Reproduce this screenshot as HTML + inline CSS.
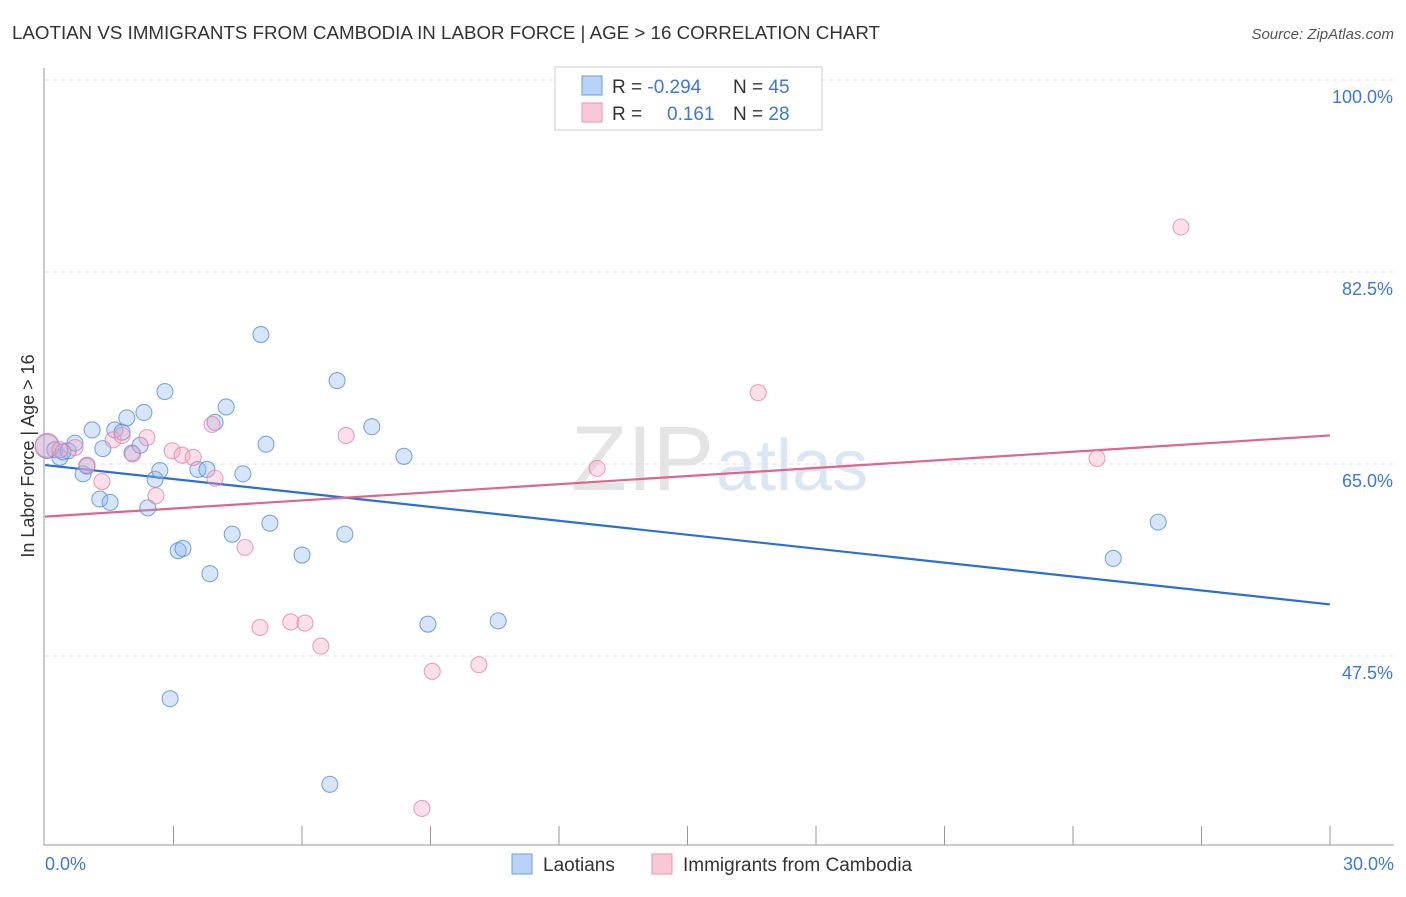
<!DOCTYPE html>
<html><head><meta charset="utf-8"><style>
body{margin:0;background:#fff;font-family:"Liberation Sans",sans-serif}
svg text{font-family:"Liberation Sans",sans-serif}
</style></head><body>
<svg id="chart" width="1406" height="892" xmlns="http://www.w3.org/2000/svg">
<text x="12" y="39" font-size="18" fill="#333" textLength="868" lengthAdjust="spacingAndGlyphs">LAOTIAN VS IMMIGRANTS FROM CAMBODIA IN LABOR FORCE | AGE &gt; 16 CORRELATION CHART</text>
<text x="1394" y="39" font-size="15" fill="#555" font-style="italic" text-anchor="end">Source: ZipAtlas.com</text>
<text x="714" y="490" font-size="92" fill="#e4e4e4" text-anchor="end" font-family="Liberation Serif">ZIP</text>
<text x="716" y="490" font-size="72" fill="#dbe6f5">atlas</text>
<g id="grid"></g>
<g id="axes"></g>
<g id="lines"></g>
<g id="points"></g>
<text x="34" y="456" font-size="18" fill="#333" text-anchor="middle" transform="rotate(-90 34 456)">In Labor Force | Age &gt; 16</text>
<text x="45" y="870" font-size="18" fill="#3b78d8">0.0%</text>
<text x="1394" y="870" font-size="18" fill="#3b78d8" text-anchor="end">30.0%</text>
<g>
<rect x="555" y="67" width="267" height="63" fill="#fff" stroke="#ccc"/>
<rect x="582" y="76" width="20" height="19" fill="#b9d3f6" stroke="#6a9be0"/>
<rect x="582" y="103" width="20" height="19" fill="#f9c8d6" stroke="#eb94b0"/>
<text x="612" y="93" font-size="19" fill="#333">R = <tspan fill="#3b78d8">-0.294</tspan></text>
<text x="733" y="93" font-size="19" fill="#333">N = <tspan fill="#3b78d8">45</tspan></text>
<text x="612" y="120" font-size="19" fill="#333">R = </text>
<text x="667" y="120" font-size="19" fill="#3b78d8">0.161</text>
<text x="733" y="120" font-size="19" fill="#333">N = <tspan fill="#3b78d8">28</tspan></text>
</g>
<g>
<rect x="512" y="854" width="20" height="20" fill="#b9d3f6" stroke="#6a9be0"/>
<text x="543" y="871" font-size="19" fill="#333">Laotians</text>
<rect x="652" y="854" width="20" height="20" fill="#f9c8d6" stroke="#eb94b0"/>
<text x="683" y="871" font-size="19" fill="#333">Immigrants from Cambodia</text>
</g>
</svg>
<script>
const yTicks=[100,82.5,65,47.5];
const yTickLabels=["100.0%","82.5%","65.0%","47.5%"];
const xTicks=[3,6,9,12,15,18,21,24,27,30];
const blueX=[0.05,0.23,0.35,0.54,0.70,0.89,0.98,1.10,1.28,1.35,1.52,1.63,1.80,1.91,2.03,2.22,2.31,2.40,2.57,2.68,2.80,3.11,3.22,3.57,3.78,3.85,3.97,4.23,4.37,4.62,5.04,5.16,5.25,6.00,6.82,7.00,7.63,8.38,8.94,10.58,6.65,2.92,24.94,25.99,0.42];
const blueY=[66.6,66.3,65.6,66.2,66.9,64.1,64.8,68.1,61.8,66.4,61.5,68.1,67.9,69.2,66.0,66.7,69.7,61.0,63.6,64.4,71.6,57.1,57.3,64.5,64.5,55.0,68.8,70.2,58.6,64.1,76.8,66.8,59.6,56.7,72.6,58.6,68.4,65.7,50.4,50.7,35.8,43.6,56.4,59.7,66.1];
const pinkX=[0.05,0.35,0.70,0.98,1.33,1.59,1.80,2.05,2.38,2.59,2.97,3.20,3.46,3.90,3.97,4.67,5.02,5.74,6.07,6.44,7.03,9.04,8.80,10.13,12.89,16.65,24.56,26.52];
const pinkY=[66.7,66.3,66.5,64.9,63.4,67.2,67.6,65.9,67.4,62.1,66.2,65.8,65.6,68.6,63.7,57.4,50.1,50.6,50.5,48.4,67.6,46.1,33.6,46.7,64.6,71.5,65.5,86.6];
const blueTrend=[64.9,52.2];
const pinkTrend=[60.2,67.6];
const NS="http://www.w3.org/2000/svg";
const X=v=>45+v*42.833, Y=v=>80+(100-v)*10.971;
function mk(t,a,p){const e=document.createElementNS(NS,t);for(const k in a)e.setAttribute(k,a[k]);document.getElementById(p).appendChild(e);return e;}
yTicks.forEach((t,i)=>{
 const l=mk('line',{x1:45,x2:1394,y1:Y(t),y2:Y(t),stroke:'#ddd','stroke-dasharray':'4,4'},'grid');
 
 
 const tx=mk('text',{x:1393,y:Y(t)+23,'font-size':18,fill:'#3b78d8','text-anchor':'end'},'axes');
 tx.textContent=yTickLabels[i];
 
 
});
let a=mk('line',{x1:44,x2:44,y1:68,y2:845,stroke:'#999'},'axes');


a=mk('line',{x1:44,x2:1394,y1:845,y2:845,stroke:'#999'},'axes');


xTicks.forEach(t=>{
 const l=mk('line',{x1:X(t),x2:X(t),y1:826,y2:845,stroke:'#999'},'axes');
 
 
});
function pts(xs,ys,fill,stroke,name){
 xs.forEach((x,i)=>{
  const c=mk('circle',{cx:X(x),cy:Y(ys[i]),r:i==0?12:8,fill:fill,stroke:stroke,'stroke-width':1.1},'points');
  
  
 });
}
pts(blueX,blueY,'rgba(140,180,238,0.35)','rgba(80,140,220,0.75)','laotian-point');
pts(pinkX,pinkY,'rgba(245,165,192,0.35)','rgba(230,130,165,0.75)','cambodia-point');
let t=mk('line',{x1:X(0),x2:X(30),y1:Y(blueTrend[0]),y2:Y(blueTrend[1]),stroke:'#2b6fd6','stroke-width':2.2},'lines');


t=mk('line',{x1:X(0),x2:X(30),y1:Y(pinkTrend[0]),y2:Y(pinkTrend[1]),stroke:'#e0648f','stroke-width':2.2},'lines');


</script>
</body></html>
